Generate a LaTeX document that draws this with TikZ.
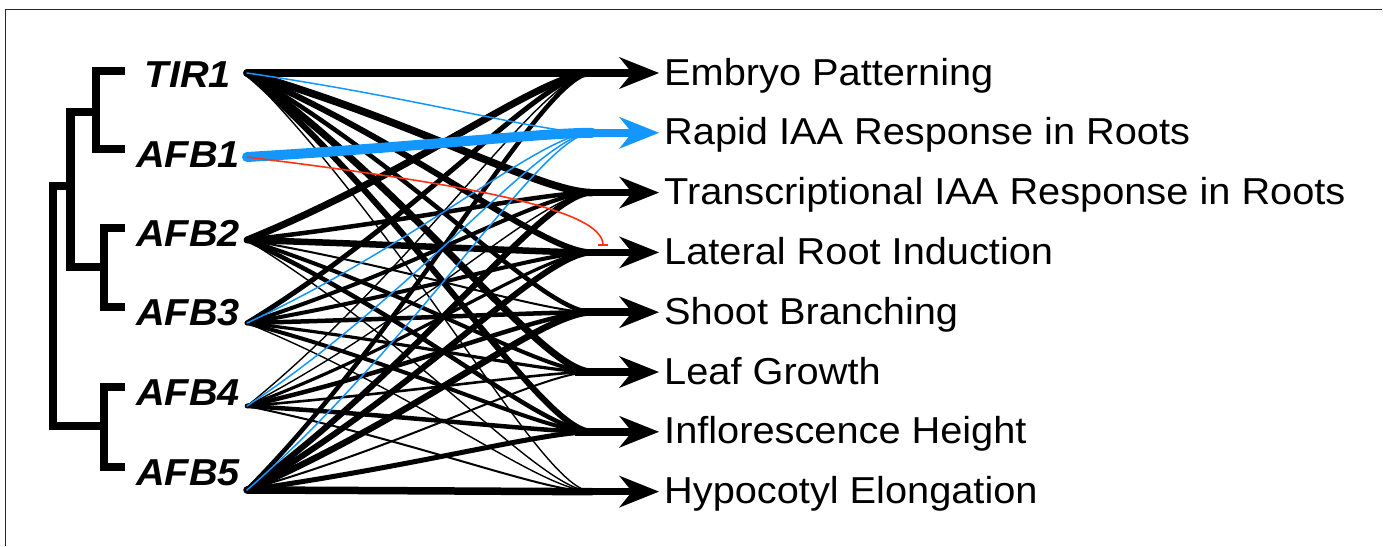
\documentclass[tikz,border=0pt]{standalone}
\usepackage{fontspec}
\setmainfont{Liberation Sans}
\usepackage{graphicx}
\usetikzlibrary{arrows.meta,calc}
\definecolor{edgeblue}{RGB}{20,150,255}
\definecolor{edgered}{RGB}{255,50,20}
\begin{document}
\begin{tikzpicture}[x=1pt,y=-1pt,
  tree/.style={line width=8.5pt, line join=miter, line cap=butt},
  srclabel/.style={anchor=base, inner sep=0pt, font=\fontsize{37.5}{40}\selectfont\bfseries\itshape},
  tgtlabel/.style={anchor=base west, inner sep=0pt, font=\fontsize{37.5}{40}\selectfont},
  shaft/.style={line width=7.5pt, -{Stealth[length=40pt,width=32pt,inset=13pt,line width=0pt]}},
  frameline/.style={line width=1pt, black!85}]
\useasboundingbox (0,0) rectangle (1383,546);
\draw[frameline] (5,546) -- (5,9) -- (1382,9);
% dendrogram
\draw[tree] (125,71) -- (96,71) -- (96,149) -- (125,149);
\draw[tree] (96,112) -- (70.5,112) -- (70.5,267) -- (104,267);
\draw[tree] (125,228) -- (104,228) -- (104,307) -- (125,307);
\draw[tree] (70.5,186) -- (53,186) -- (53,426) -- (104,426);
\draw[tree] (125,387) -- (104,387) -- (104,467) -- (125,467);
% source labels and points
\node[srclabel] (n0) at (188,87.5) {\scalebox{1.06}[1]{TIR1}};
\node[srclabel] (n1) at (188,167) {\scalebox{1.06}[1]{AFB1}};
\node[srclabel] (n2) at (188,246.5) {\scalebox{1.06}[1]{AFB2}};
\node[srclabel] (n3) at (188,325.5) {\scalebox{1.06}[1]{AFB3}};
\node[srclabel] (n4) at (188,405) {\scalebox{1.06}[1]{AFB4}};
\node[srclabel] (n5) at (188,485) {\scalebox{1.06}[1]{AFB5}};
\foreach \i/\yy in {0/73,1/157,2/240,3/323,4/406,5/490}
  \coordinate (s\i) at (247,\yy);
% targets
\foreach \j in {1,...,8}{
  \pgfmathsetmacro\ty{73+59.8*(\j-1)}
  \coordinate (t\j) at (592,\ty);
  \coordinate (a\j) at (575,\ty);
  \coordinate (h\j) at (659,\ty);
}
\node[tgtlabel] (l1) at (664,85) {\scalebox{1.06}[1]{Embryo Patterning}};
\node[tgtlabel] (l2) at (664,144.8) {\scalebox{1.06}[1]{Rapid IAA Response in Roots}};
\node[tgtlabel] (l3) at (664,204.6) {\scalebox{1.06}[1]{Transcriptional IAA Response in Roots}};
\node[tgtlabel] (l4) at (664,264.4) {\scalebox{1.06}[1]{Lateral Root Induction}};
\node[tgtlabel] (l5) at (664,324.2) {\scalebox{1.06}[1]{Shoot Branching}};
\node[tgtlabel] (l6) at (664,384) {\scalebox{1.06}[1]{Leaf Growth}};
\node[tgtlabel] (l7) at (664,443.8) {\scalebox{1.06}[1]{Inflorescence Height}};
\node[tgtlabel] (l8) at (664,503.6) {\scalebox{1.06}[1]{Hypocotyl Elongation}};
% edges
\foreach \a/\b/\w/\c in {
  0/1/7.5/black, 0/3/7.5/black, 0/4/6/black, 0/5/4.5/black, 0/6/7/black, 0/7/6/black, 0/8/1.4/black,
  2/1/7/black, 2/3/4.5/black, 2/4/6.5/black, 2/5/2/black, 2/6/4/black, 2/7/4.5/black, 2/8/1.4/black,
  3/1/5/black, 3/3/4/black, 3/4/4/black, 3/5/4.5/black, 3/6/3.2/black, 3/7/4/black, 3/8/1.4/black,
  4/1/1.4/black, 4/3/1.4/black, 4/4/3.2/black, 4/5/4.5/black, 4/6/2.6/black, 4/7/4.5/black, 4/8/2/black,
  5/1/4.5/black, 5/3/6/black, 5/4/6/black, 5/5/6.5/black, 5/6/2/black, 5/7/5/black, 5/8/7.5/black,
  0/2/1.5/edgeblue, 3/2/1.5/edgeblue, 4/2/1.5/edgeblue, 5/2/1.5/edgeblue, 1/2/10/edgeblue}{
  \draw[line width=\w pt, \c, line cap=round] let \p1=(s\a), \p2=(t\b), \n1={0.08*(\y1-\y2)} in
    (s\a) .. controls ($(s\a)!0.5!(t\b)+(0,\n1)$) and ($(t\b)+(-50,0)$) .. (t\b);
}
\coordinate (rend) at (603,246);
\draw[edgered, line width=1.6pt, -{Bar[width=10pt]}] (s1) .. controls (430,180) and (603,205) .. (rend);
% arrows
\foreach \j in {1,3,4,5,6,7,8}
  \draw[shaft, black] (a\j) -- (h\j);
\draw[shaft, edgeblue] (a2) -- (h2);
\end{tikzpicture}
\end{document}
